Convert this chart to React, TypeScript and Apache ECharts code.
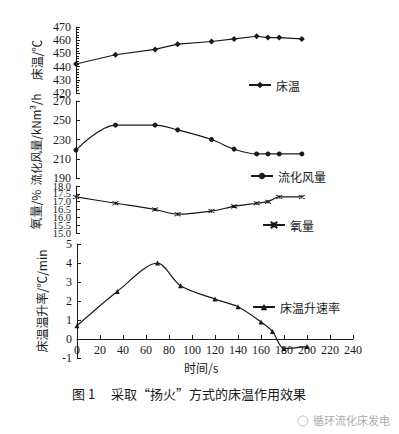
import React, { useEffect, useRef } from "react";
import * as echarts from "echarts";

const times = [0, 35, 70, 90, 120, 140, 160, 170, 180, 200];
const bedTemp = [442, 449, 453, 457, 459, 461, 463, 462, 462, 461];
const airFlow = [219, 245, 245, 240, 230, 220, 215, 215, 215, 215];
const oxygen = [17.3, 16.9, 16.5, 16.2, 16.4, 16.7, 16.9, 17.0, 17.3, 17.3];
const riseRate = [0.7, 2.5, 4.0, 2.8, 2.1, 1.7, 0.9, 0.4, -0.5, -0.4];

const seriesNames = ["床温", "流化风量", "氧量", "床温升速率"];
const axisNames = ["床温/℃", "流化风量/kNm³/h", "氧量/%", "床温温升率/℃/min"];
const xAxisName = "时间/s";
const caption = "图 1　 采取“扬火”方式的床温作用效果";
const watermark = "循环流化床发电";

const pairs = (ys: number[]) => times.map((t, i) => [t, ys[i]]);

const serif = "'Liberation Serif', 'DejaVu Serif', serif";
const cjk = "'Noto Sans CJK SC', sans-serif";
const ink = "#1a1a1a";

const oxSymbol = "path://M0,0L10,10M10,0L0,10M5,1L5,9";

export default function App() {
  const ref = useRef<HTMLDivElement>(null);
  useEffect(() => {
    if (!ref.current) return;
    document.body.style.margin = "0";
    const chart = echarts.init(ref.current, undefined, { renderer: "svg" });
    const grids = [
      { left: 76, width: 271, top: 27, height: 66 },
      { left: 76, width: 271, top: 101, height: 77 },
      { left: 76, width: 271, top: 186, height: 47 },
      { left: 77, width: 276, top: 244, height: 114 },
    ];
    const yCfg = [
      { min: 420, max: 470, interval: 10, gap: 33, minor: true, fmt: (v: number) => String(v) },
      { min: 190, max: 270, interval: 20, gap: 33, minor: false, fmt: (v: number) => String(v) },
      { min: 15, max: 18, interval: 0.5, gap: 33, minor: false, fmt: (v: number) => (Number.isInteger(v) ? v.toFixed(1) : "") },
      { min: -1, max: 5, interval: 1, gap: 30, minor: false, fmt: (v: number) => String(v) },
    ];
    const axisLine = { show: true, lineStyle: { color: ink, width: 1 } };
    const yAxes: any[] = yCfg.map((c, i) => ({
      type: "value",
      gridIndex: i,
      min: c.min,
      max: c.max,
      interval: c.interval,
      name: axisNames[i],
      nameLocation: "middle",
      nameRotate: 90,
      nameGap: c.gap,
      nameTextStyle: { color: ink, fontFamily: cjk, fontSize: i === 1 ? 11.5 : 12 },
      axisLine: { ...axisLine, onZero: false },
      axisTick: { show: true, inside: true, length: 4, lineStyle: { color: ink } },
      minorTick: c.minor
        ? { show: true, splitNumber: 5, length: 3, lineStyle: { color: ink } }
        : { show: false },
      axisLabel: {
        color: ink,
        fontFamily: serif,
        fontSize: i === 2 ? 10.5 : 12,
        margin: 5,
        showMinLabel: true,
        showMaxLabel: true,
        hideOverlap: false,
        formatter: c.fmt,
      },
      splitLine: { show: false },
    }));
    // companion axis carrying the half-step oxygen labels (17.5, 16.5, 15.5)
    yAxes.push({
      type: "value",
      gridIndex: 2,
      position: "left",
      offset: 0,
      min: 15,
      max: 18,
      interval: 0.5,
      axisLine: { show: false, onZero: false },
      axisTick: { show: false },
      axisLabel: {
        color: ink,
        fontFamily: serif,
        fontSize: 10.5,
        margin: 5,
        showMinLabel: true,
        showMaxLabel: true,
        hideOverlap: false,
        formatter: (v: number) => (Number.isInteger(v) ? "" : v.toFixed(1)),
      },
      splitLine: { show: false },
    });
    const option: any = {
      animation: false,
      backgroundColor: "#fff",
      grid: grids,
      xAxis: grids.map((g, i) => ({
        type: "value",
        gridIndex: i,
        min: 0,
        max: 240,
        interval: 20,
        show: i === 3,
        position: "bottom",
        // place the time axis at rate = 0 (one sixth of the grid height above its bottom)
        offset: i === 3 ? -Math.round(g.height / 6) : 0,
        axisLine: { ...axisLine, onZero: false },
        axisTick: { show: true, inside: true, length: 4, lineStyle: { color: ink } },
        axisLabel: { color: ink, fontFamily: serif, fontSize: 12, margin: 5 },
        splitLine: { show: false },
      })),
      yAxis: yAxes,
      legend: [
        { left: 248, top: 79 },
        { left: 250, top: 170 },
        { left: 262, top: 219 },
        { left: 252, top: 301 },
      ].map((p, i) => ({
        data: [seriesNames[i]],
        left: p.left,
        top: p.top,
        itemWidth: 22,
        itemHeight: 8,
        itemGap: 4,
        padding: 0,
        textStyle: { color: ink, fontFamily: cjk, fontSize: 12 },
      })),
      series: [
        {
          name: seriesNames[0],
          type: "line",
          xAxisIndex: 0,
          yAxisIndex: 0,
          data: pairs(bedTemp),
          symbol: "diamond",
          symbolSize: 6,
          lineStyle: { color: ink, width: 1.2 },
          itemStyle: { color: ink },
        },
        {
          name: seriesNames[1],
          type: "line",
          xAxisIndex: 1,
          yAxisIndex: 1,
          data: pairs(airFlow),
          smooth: 0.35,
          symbol: "circle",
          symbolSize: 5,
          lineStyle: { color: ink, width: 1.2 },
          itemStyle: { color: ink },
        },
        {
          name: seriesNames[2],
          type: "line",
          xAxisIndex: 2,
          yAxisIndex: 2,
          data: pairs(oxygen),
          smooth: 0.3,
          symbol: oxSymbol,
          symbolSize: [6, 4],
          lineStyle: { color: ink, width: 1.2 },
          itemStyle: { color: "none", borderColor: ink, borderWidth: 1 },
        },
        {
          name: seriesNames[3],
          type: "line",
          xAxisIndex: 3,
          yAxisIndex: 3,
          data: pairs(riseRate),
          smooth: 0.3,
          symbol: "triangle",
          symbolSize: 5,
          lineStyle: { color: ink, width: 1.2 },
          itemStyle: { color: ink },
        },
      ],
      graphic: [
        {
          type: "text",
          left: 184,
          top: 361,
          style: { text: xAxisName, fill: ink, font: `12px ${cjk}` },
        },
        {
          type: "text",
          left: 72,
          top: 387,
          style: { text: caption, fill: ink, font: `13px ${cjk}` },
        },
        {
          type: "circle",
          shape: { cx: 303, cy: 421, r: 5 },
          style: { fill: "none", stroke: "#bbb", lineWidth: 1 },
        },
        {
          type: "text",
          left: 313,
          top: 414,
          style: { text: watermark, fill: "#aaa", font: `11px ${cjk}` },
        },
      ],
    };
    chart.setOption(option);
    return () => chart.dispose();
  }, []);
  return <div ref={ref} style={{ width: 399, height: 434 }} />;
}
